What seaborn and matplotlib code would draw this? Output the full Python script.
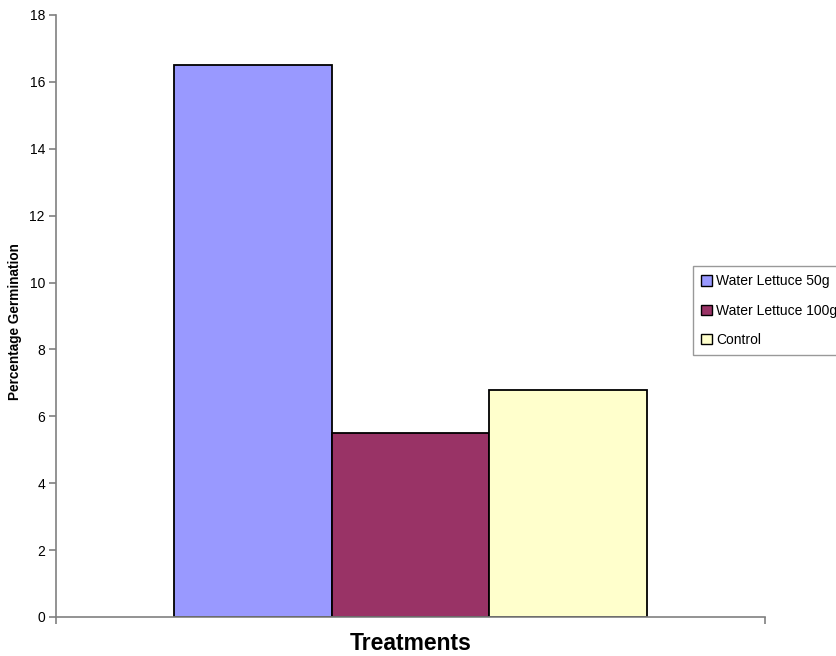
import matplotlib
matplotlib.use("Agg")
import matplotlib.pyplot as plt
import pandas as pd
import seaborn as sns

# Germination results per treatment
series = ["Water Lettuce 50g", "Water Lettuce 100g", "Control"]
germination = [16.5, 5.5, 6.8]
bar_colors = ["#9999FF", "#993366", "#FFFFCC"]
y_ticks = [0, 2, 4, 6, 8, 10, 12, 14, 16, 18]

df = pd.DataFrame({
    "group": [""] * len(series),
    "series": series,
    "value": germination,
})

sns.set_style("white")
plt.rcParams["font.family"] = ["Liberation Sans", "DejaVu Sans"]
plt.rcParams["text.color"] = "black"
plt.rcParams["axes.labelcolor"] = "black"
plt.rcParams["xtick.labelcolor"] = "black"
plt.rcParams["ytick.labelcolor"] = "black"

W, H = 837, 656
fig = plt.figure(figsize=(W / 100, H / 100), dpi=100)
ax = fig.add_axes([56 / W, 1 - 617 / H, (765 - 56) / W, (617 - 15) / H])

sns.barplot(
    data=df, x="group", y="value", hue="series", hue_order=series,
    palette=bar_colors, width=0.666, edgecolor="black", linewidth=1.3,
    saturation=1, ax=ax, legend=True,
)

ax.set_xlim(-0.5, 0.5)
ax.set_ylim(0, 18)
ax.set_yticks(y_ticks)
ax.set_yticklabels([str(t) for t in y_ticks], fontsize=10, color="black")
ax.set_xticks([-0.5, 0.5])
ax.set_xticklabels(["", ""])

axis_gray = "#808080"
for side in ["top", "right"]:
    ax.spines[side].set_visible(False)
for side in ["left", "bottom"]:
    ax.spines[side].set_color(axis_gray)
    ax.spines[side].set_linewidth(1.2)
ax.tick_params(axis="y", direction="out", length=5, width=1.2, color=axis_gray,
               pad=3, labelcolor="black", left=True)
ax.tick_params(axis="x", direction="out", length=5, width=1.2, color=axis_gray,
               bottom=True)

ax.set_xlabel("Treatments", fontsize=16.5, fontweight="bold", color="black")
ax.xaxis.set_label_coords(0.5, -0.025)
ax.set_ylabel("Percentage Germination", fontsize=9.8, fontweight="bold",
              color="black")
ax.yaxis.set_label_coords(-0.048, 0.49)

handles, labels = ax.get_legend_handles_labels()
ax.legend(
    handles, labels, loc="upper left",
    bbox_to_anchor=(693 / W, 1 - 266 / H), bbox_transform=fig.transFigure,
    fontsize=10, frameon=True, fancybox=False, edgecolor=axis_gray,
    handlelength=0.75, handleheight=0.75, handletextpad=0.3,
    labelspacing=1.1, borderpad=0.6, borderaxespad=0, title=None,
    labelcolor="black",
)
leg = ax.get_legend()
leg.get_frame().set_linewidth(1.0)
for patch in leg.get_patches():
    patch.set_edgecolor("black")
    patch.set_linewidth(1.0)

fig.savefig("out.png", dpi=100)
